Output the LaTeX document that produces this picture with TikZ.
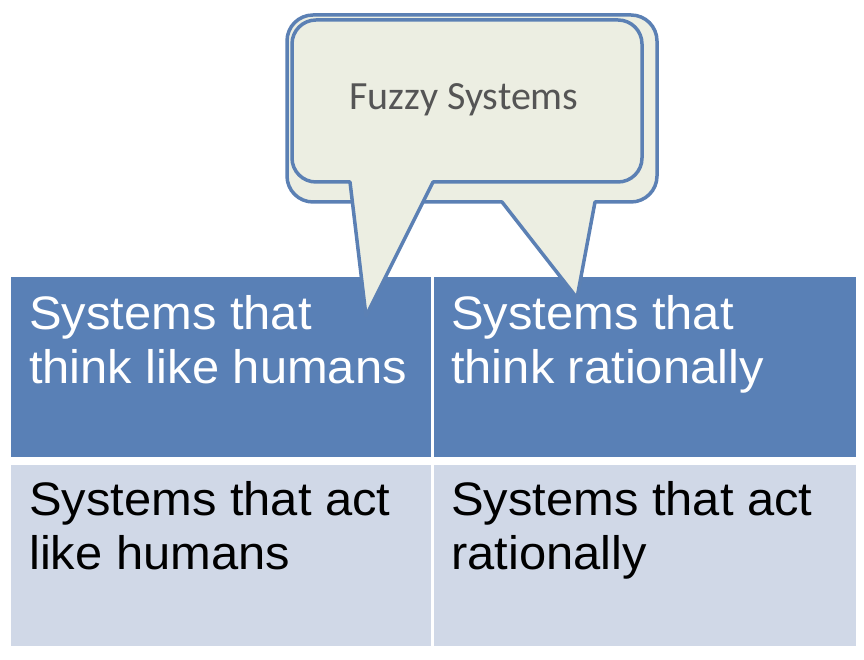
\documentclass[tikz,border=0pt]{standalone}
\usepackage{fontspec}
\setmainfont{Liberation Sans}[FakeStretch=1.04]
\newfontfamily\calibrifont{Carlito}
\usepackage{xcolor}
\usetikzlibrary{positioning}

\definecolor{cellblue}{RGB}{89,128,182}
\definecolor{celllight}{RGB}{208,216,231}
\definecolor{bubblefill}{RGB}{236,238,226}
\definecolor{bubbleline}{RGB}{91,128,180}
\definecolor{fuzzygray}{RGB}{85,85,85}

\begin{document}
\begin{tikzpicture}[x=1pt, y=1pt,
    cell/.style={anchor=north west, inner sep=0pt, minimum width=420pt, minimum height=180pt},
    headcell/.style={cell, fill=cellblue},
    bodycell/.style={cell, fill=celllight, minimum height=181pt},
    celltext/.style={anchor=base west, inner sep=0pt, align=left, font=\fontsize{47}{54}\selectfont},
    bubble/.style={draw=bubbleline, fill=bubblefill, line width=3.5pt, line join=round}]
    \useasboundingbox (0,0) rectangle (864,660);

    % the four cells of the table
    \node[headcell] (thinkH) at (11,383) {};
    \node[headcell, minimum width=422pt] (thinkR) at (434,383) {};
    \node[bodycell] (actH) at (11,195) {};
    \node[bodycell, minimum width=422pt] (actR) at (434,195) {};

    % base anchor sits on the last line of each text
    \node[celltext, text=white] (thinkHtxt) at ([xshift=18pt, yshift=-107pt]thinkH.north west) {Systems that\\think like humans};
    \node[celltext, text=white] (thinkRtxt) at ([xshift=17pt, yshift=-107pt]thinkR.north west) {Systems that\\think rationally};
    \node[celltext] (actHtxt) at ([xshift=18pt, yshift=-105pt]actH.north west) {Systems that act\\like humans};
    \node[celltext] (actRtxt) at ([xshift=17pt, yshift=-105pt]actR.north west) {Systems that act\\rationally};

    % back callout, pointing to the right cell
    \def\r{26}
    \draw[bubble] (313,645) -- (631,645) arc[start angle=90, end angle=0, radius=\r]
        -- (657,484) arc[start angle=0, end angle=-90, radius=\r]
        -- (595,458) -- (577,362) -- (502,458)
        -- (313,458) arc[start angle=270, end angle=180, radius=\r]
        -- (287,619) arc[start angle=180, end angle=90, radius=\r] -- cycle;

    % front callout, pointing to the left cell
    \def\r{24}
    \draw[bubble] (316,640) -- (618,640) arc[start angle=90, end angle=0, radius=\r]
        -- (642,502) arc[start angle=0, end angle=-90, radius=\r]
        -- (433,478) -- (366,344) -- (350,478)
        -- (316,478) arc[start angle=270, end angle=180, radius=\r]
        -- (292,616) arc[start angle=180, end angle=90, radius=\r] -- cycle;

    \node[anchor=base, inner sep=0pt, text=fuzzygray, font=\calibrifont\fontsize{40}{48}\selectfont] (fuzzy) at (464,550) {Fuzzy Systems};
\end{tikzpicture}
\end{document}
